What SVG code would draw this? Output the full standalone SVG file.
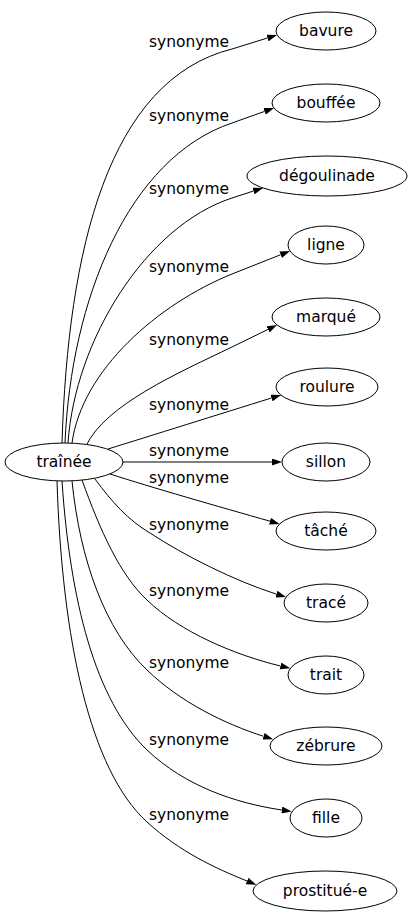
<svg xmlns="http://www.w3.org/2000/svg" width="409" height="923" viewBox="0 0 409 923">
<style>
.n ellipse{fill:#fff;stroke:#000;stroke-width:1}
.n text{font-family:"DejaVu Sans",sans-serif;font-size:15.5px;fill:#000;text-anchor:middle}
.e path{fill:none;stroke:#000;stroke-width:1}
.e text{font-family:"DejaVu Sans",sans-serif;font-size:15.5px;fill:#000;text-anchor:middle}
</style>
<defs>
<marker id="ah" viewBox="0 0 10 7" refX="0" refY="3.5" markerWidth="10" markerHeight="7" markerUnits="userSpaceOnUse" orient="auto">
<path d="M0,0 L10,3.5 L0,7 z" fill="#000"/>
</marker>
</defs>
<rect width="409" height="923" fill="#fff"/>
<g id="edges" class="e">
<path marker-end="url(#ah)" d="M62,443 C68,250 108,80 232,49 L267.5,38"/>
<path marker-end="url(#ah)" d="M65,443 C71,300 128,158 232,123 L264.6,111.4"/>
<path marker-end="url(#ah)" d="M68,443 C75,340 146,226 232,198 L253.5,191"/>
<path marker-end="url(#ah)" d="M72,443 C82,370 158,304 232,274 L280.7,254.7"/>
<path marker-end="url(#ah)" d="M86,446 C105,405 178,373 232,347 L268,329.4"/>
<path marker-end="url(#ah)" d="M108,449 C150,436 220,414 271.5,398"/>
<path marker-end="url(#ah)" d="M123,462 L272,462"/>
<path marker-end="url(#ah)" d="M110,474 C150,487 220,507 270,521.2"/>
<path marker-end="url(#ah)" d="M95,479 C112,502 128,520 150,533 C185,556 235,581 276.4,594.1"/>
<path marker-end="url(#ah)" d="M82,480 C100,530 120,575 147,600 C180,632 235,655 280.5,666"/>
<path marker-end="url(#ah)" d="M72,481 C80,560 105,630 147,670 C180,702 225,724 263.6,736.3"/>
<path marker-end="url(#ah)" d="M62,481 C70,600 95,700 147,750 C185,786 235,803 281.8,810"/>
<path marker-end="url(#ah)" d="M57,481 C62,640 90,770 147,822 C180,852 215,868 247,881"/>
<text x="189" y="47">synonyme</text>
<text x="189" y="121">synonyme</text>
<text x="189" y="194">synonyme</text>
<text x="189" y="272">synonyme</text>
<text x="189" y="345">synonyme</text>
<text x="189" y="410">synonyme</text>
<text x="189" y="456">synonyme</text>
<text x="189" y="483">synonyme</text>
<text x="189" y="530">synonyme</text>
<text x="189" y="596">synonyme</text>
<text x="189" y="668">synonyme</text>
<text x="189" y="745">synonyme</text>
<text x="189" y="820">synonyme</text>
</g>
<g id="trainee" class="n"><ellipse cx="64" cy="462" rx="59" ry="19"/><text x="64" y="467">traînée</text></g>
<g id="bavure" class="n"><ellipse cx="326" cy="31" rx="50" ry="19"/><text x="326" y="36">bavure</text></g>
<g id="bouffee" class="n"><ellipse cx="326" cy="103" rx="54" ry="19"/><text x="326" y="108">bouffée</text></g>
<g id="degoulinade" class="n"><ellipse cx="327" cy="176" rx="80" ry="20"/><text x="327" y="181">dégoulinade</text></g>
<g id="ligne" class="n"><ellipse cx="326" cy="245" rx="38" ry="19"/><text x="326" y="250">ligne</text></g>
<g id="marque" class="n"><ellipse cx="326" cy="317" rx="54" ry="19"/><text x="326" y="322">marqué</text></g>
<g id="roulure" class="n"><ellipse cx="327" cy="387" rx="51" ry="19"/><text x="327" y="392">roulure</text></g>
<g id="sillon" class="n"><ellipse cx="326" cy="462" rx="44" ry="19"/><text x="326" y="467">sillon</text></g>
<g id="tache" class="n"><ellipse cx="326" cy="531" rx="50" ry="19"/><text x="326" y="536">tâché</text></g>
<g id="trace" class="n"><ellipse cx="326" cy="603" rx="42" ry="19"/><text x="326" y="608">tracé</text></g>
<g id="trait" class="n"><ellipse cx="326" cy="675" rx="38" ry="19"/><text x="326" y="680">trait</text></g>
<g id="zebrure" class="n"><ellipse cx="326" cy="746" rx="56" ry="19"/><text x="326" y="751">zébrure</text></g>
<g id="fille" class="n"><ellipse cx="326" cy="818" rx="36" ry="19"/><text x="326" y="823">fille</text></g>
<g id="prostituee" class="n"><ellipse cx="325" cy="891" rx="72" ry="20"/><text x="325" y="896">prostitué-e</text></g>
</svg>
